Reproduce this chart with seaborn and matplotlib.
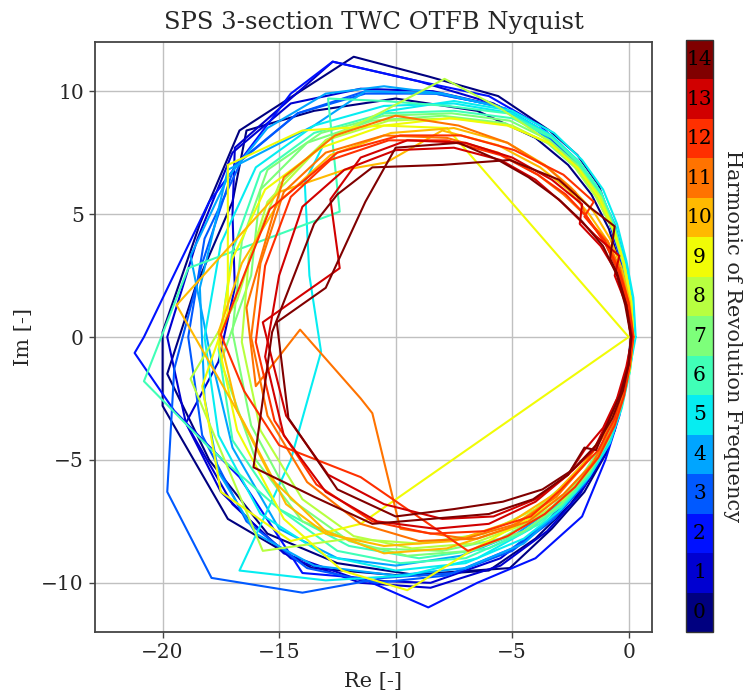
import numpy as np
import pandas as pd
import matplotlib
matplotlib.use("Agg")
import matplotlib.pyplot as plt
import seaborn as sns
from matplotlib.colors import ListedColormap, BoundaryNorm
from matplotlib.cm import ScalarMappable

# ---------------- data ----------------
harmonics = list(range(15))
tick_labels = [str(h) for h in harmonics]

c00a_re = [0.15, 0.05, -0.25, -0.7, -1.3, -2.2, -3.4, -5.6, -8.6, -11.8, -16.7, -18.4, -20.0, -20.0, -17.2, -13.6, -9.8, -5.1, -3.3, -1.9, -0.95, -0.4, -0.05, 0.15]
c00a_im = [0.0, 1.5, 3.0, 4.6, 6.2, 7.4, 8.4, 9.8, 10.6, 11.4, 8.4, 4.6, 0.2, -2.8, -7.4, -9.4, -9.7, -9.4, -7.8, -6.3, -4.7, -3.1, -1.5, 0.0]
c00b_re = [0.1, 0.0, -0.35, -0.85, -1.6, -2.6, -4.0, -6.5, -10.0, -13.5, -16.4, -17.0, -18.6, -19.8, -18.0, -15.5, -12.5, -9.0, -6.0, -4.0, -2.5, -1.4, -0.6, -0.15, 0.1]
c00b_im = [0.0, 1.4, 2.9, 4.4, 5.8, 7.0, 8.1, 9.2, 9.7, 9.2, 8.4, 5.5, 2.0, -1.5, -5.0, -8.0, -9.2, -9.7, -9.5, -8.2, -6.8, -5.4, -3.8, -2.0, 0.0]
c01a_re = [0.2, 0.05, -0.3, -0.8, -1.5, -2.5, -3.8, -5.8, -9.0, -12.7, -16.9, -17.0, -16.9, -17.6, -19.0, -17.5, -14.8, -11.5, -8.5, -5.5, -3.6, -2.2, -1.2, -0.5, -0.1, 0.2]
c01a_im = [0.0, 1.6, 3.1, 4.6, 6.0, 7.3, 8.4, 9.5, 10.4, 11.2, 7.7, 5.0, 2.0, -1.0, -3.5, -6.3, -8.8, -9.9, -10.0, -9.0, -7.6, -6.2, -4.7, -3.2, -1.6, 0.0]
c01b_re = [0.2, 0.1, -0.2, -0.7, -1.4, -2.4, -3.7, -5.6, -8.4, -11.5, -14.5, -17.0, -18.5, -19.8, -19.0, -17.0, -14.5, -11.5, -8.5, -5.5, -3.5, -2.1, -1.1, -0.45, -0.05, 0.2]
c01b_im = [0.0, 1.6, 3.1, 4.6, 6.0, 7.3, 8.4, 9.4, 10.0, 10.1, 9.5, 7.5, 4.0, 0.0, -3.5, -6.8, -9.0, -10.0, -10.2, -9.3, -7.9, -6.4, -4.9, -3.3, -1.6, 0.0]
c02a_re = [0.15, 0.0, -0.3, -0.8, -1.5, -2.5, -3.8, -6.0, -9.0, -12.7, -14.5, -18.0, -20.8, -21.2, -19.5, -16.7, -14.0, -11.5, -8.6, -6.5, -4.0, -2.0, -1.0, -0.4, -0.05, 0.15]
c02a_im = [0.0, 1.5, 3.0, 4.6, 6.1, 7.4, 8.6, 9.8, 10.4, 11.2, 9.9, 5.5, 0.0, -0.65, -3.0, -5.7, -9.6, -9.8, -11.0, -10.0, -9.0, -7.3, -5.0, -3.2, -1.5, 0.0]
c03a_re = [0.2, 0.1, -0.2, -0.7, -1.4, -2.4, -3.7, -5.6, -8.3, -11.3, -14.2, -16.9, -18.3, -19.5, -19.8, -17.9, -14.0, -10.5, -7.5, -5.0, -3.2, -1.9, -1.0, -0.4, -0.05, 0.2]
c03a_im = [0.0, 1.5, 3.0, 4.5, 5.9, 7.2, 8.4, 9.4, 9.9, 10.0, 9.1, 7.0, 3.0, -1.3, -6.3, -9.8, -10.4, -9.8, -9.6, -8.7, -7.4, -6.0, -4.6, -3.1, -1.5, 0.0]
c03b_re = [0.2, 0.1, -0.2, -0.7, -1.4, -2.4, -3.7, -5.6, -8.3, -11.3, -14.2, -16.6, -18.2, -18.9, -18.3, -16.4, -13.8, -10.8, -7.8, -5.0, -3.2, -1.9, -1.0, -0.4, -0.05, 0.2]
c03b_im = [0.0, 1.6, 3.1, 4.6, 6.0, 7.3, 8.4, 9.4, 9.9, 9.9, 9.1, 7.2, 4.0, 0.0, -4.0, -7.5, -9.4, -10.0, -9.7, -8.6, -7.3, -5.9, -4.5, -3.0, -1.5, 0.0]
c04a_re = [0.25, 0.15, -0.15, -0.6, -1.3, -2.2, -3.5, -5.3, -8.0, -10.5, -13.0, -15.5, -17.2, -18.8, -18.0, -17.0, -15.0, -12.5, -10.0, -7.2, -4.8, -3.0, -1.8, -0.9, -0.35, 0.0, 0.25]
c04a_im = [0.0, 1.6, 3.1, 4.6, 6.0, 7.2, 8.3, 9.3, 9.9, 10.2, 9.9, 8.5, 6.5, 3.3, -0.5, -4.5, -7.8, -9.0, -9.3, -8.9, -8.0, -6.8, -5.5, -4.1, -2.7, -1.3, 0.0]
c04b_re = [0.2, 0.1, -0.2, -0.7, -1.4, -2.3, -3.5, -5.3, -8.0, -11.3, -13.5, -17.2, -18.4, -18.2, -17.6, -16.0, -13.5, -10.0, -7.0, -4.5, -2.9, -1.8, -0.9, -0.35, 0.0, 0.2]
c04b_im = [0.0, 1.5, 3.0, 4.4, 5.8, 7.0, 8.1, 9.3, 9.9, 10.0, 8.6, 6.8, 2.0, -2.5, -5.5, -8.0, -9.3, -9.7, -9.4, -8.4, -7.0, -5.7, -4.3, -2.9, -1.4, 0.0]
c05a_re = [0.3, 0.2, -0.1, -0.5, -1.1, -2.0, -3.2, -5.0, -7.5, -10.3, -13.0, -13.9, -13.7, -13.2, -14.5, -16.7, -13.0, -9.5, -6.5, -4.2, -2.6, -1.5, -0.7, -0.2, 0.1, 0.3]
c05a_im = [0.0, 1.6, 3.1, 4.6, 6.0, 7.2, 8.3, 9.2, 9.6, 9.2, 8.0, 6.3, 2.5, -0.6, -5.0, -9.5, -9.9, -9.7, -9.0, -7.8, -6.5, -5.1, -3.6, -2.2, -1.0, 0.0]
c05b_re = [0.25, 0.15, -0.15, -0.6, -1.2, -2.1, -3.3, -5.0, -7.5, -10.5, -13.5, -16.0, -17.5, -18.2, -17.6, -15.8, -13.0, -10.0, -7.0, -4.5, -2.9, -1.7, -0.8, -0.3, 0.05, 0.25]
c05b_im = [0.0, 1.5, 3.0, 4.5, 5.9, 7.1, 8.2, 9.1, 9.5, 9.4, 8.6, 6.9, 3.8, 0.0, -4.0, -7.2, -8.9, -9.5, -9.2, -8.2, -7.0, -5.7, -4.3, -2.9, -1.4, 0.0]
c06a_re = [0.2, 0.1, -0.2, -0.65, -1.3, -2.2, -3.4, -5.2, -7.8, -10.5, -12.9, -12.4, -18.9, -20.8, -18.0, -15.0, -12.0, -9.0, -6.0, -3.8, -2.3, -1.3, -0.6, -0.15, 0.2]
c06a_im = [0.0, 1.5, 3.0, 4.5, 5.9, 7.1, 8.2, 9.1, 9.4, 9.6, 9.7, 5.1, 2.8, -1.8, -4.5, -7.0, -8.5, -9.0, -8.6, -7.6, -6.3, -4.9, -3.4, -1.7, 0.0]
c06b_re = [0.2, 0.1, -0.2, -0.6, -1.2, -2.1, -3.3, -5.0, -7.5, -10.5, -13.5, -15.8, -17.0, -17.6, -17.0, -15.0, -12.5, -9.8, -7.0, -4.6, -2.9, -1.7, -0.85, -0.3, 0.05, 0.2]
c06b_im = [0.0, 1.5, 3.0, 4.5, 5.9, 7.1, 8.1, 8.9, 9.2, 9.1, 8.3, 6.7, 3.5, -0.5, -4.2, -7.0, -8.7, -9.2, -9.0, -8.0, -6.9, -5.6, -4.2, -2.8, -1.4, 0.0]
c07a_re = [0.2, 0.1, -0.2, -0.65, -1.3, -2.2, -3.4, -5.1, -7.6, -10.5, -13.2, -15.5, -16.6, -17.0, -16.2, -14.5, -12.0, -9.5, -6.8, -4.5, -2.9, -1.7, -0.85, -0.3, 0.05, 0.2]
c07a_im = [0.0, 1.5, 3.0, 4.4, 5.8, 7.0, 8.0, 8.8, 9.1, 9.0, 8.3, 6.8, 3.9, 0.2, -3.6, -6.6, -8.3, -8.9, -8.7, -7.9, -6.8, -5.5, -4.1, -2.7, -1.3, 0.0]
c07b_re = [0.15, 0.05, -0.25, -0.7, -1.4, -2.3, -3.5, -5.3, -8.0, -11.0, -13.8, -15.8, -16.2, -17.5, -16.0, -14.0, -11.0, -8.0, -5.5, -3.6, -2.2, -1.2, -0.5, -0.1, 0.15]
c07b_im = [0.0, 1.5, 3.0, 4.4, 5.7, 6.9, 7.9, 8.7, 9.0, 8.8, 7.9, 6.0, 2.5, -1.0, -5.0, -7.5, -8.6, -8.7, -8.2, -7.2, -5.9, -4.5, -3.0, -1.5, 0.0]
c08a_re = [0.2, 0.1, -0.2, -0.7, -1.4, -2.3, -3.5, -5.5, -7.9, -10.5, -13.0, -15.5, -16.8, -18.8, -15.7, -12.0, -9.0, -6.2, -4.0, -2.5, -1.4, -0.65, -0.15, 0.2]
c08a_im = [0.0, 1.5, 3.0, 4.4, 5.7, 6.9, 8.0, 9.3, 10.5, 9.2, 8.0, 5.5, 1.5, -1.7, -8.7, -8.2, -8.4, -8.0, -7.0, -5.8, -4.5, -3.1, -1.6, 0.0]
c08b_re = [0.2, 0.1, -0.2, -0.6, -1.2, -2.1, -3.3, -5.0, -7.5, -10.3, -13.0, -15.0, -16.3, -16.6, -15.8, -14.0, -11.8, -9.3, -6.7, -4.4, -2.8, -1.6, -0.8, -0.3, 0.05, 0.2]
c08b_im = [0.0, 1.5, 2.9, 4.3, 5.7, 6.8, 7.8, 8.6, 8.9, 8.8, 8.0, 6.2, 3.2, -0.2, -3.8, -6.6, -8.1, -8.6, -8.4, -7.6, -6.6, -5.3, -4.0, -2.6, -1.3, 0.0]
c09a_re = [-7.8, 0.0, -11.5, -14.5, -17.5, -18.3, -17.2, -17.2, -14.0, -10.5, -7.8]
c09a_im = [8.5, 0.0, -7.6, -8.3, -6.3, -2.0, 1.0, 7.0, 8.4, 8.6, 8.5]
c09b_re = [0.2, 0.1, -0.2, -0.65, -1.3, -2.2, -3.4, -5.2, -7.7, -10.5, -13.2, -15.6, -17.0, -17.6, -16.8, -14.8, -12.3, -9.5, -6.6, -4.3, -2.8, -1.6, -0.8, -0.3, 0.05, 0.2]
c09b_im = [0.0, 1.5, 3.0, 4.4, 5.7, 6.9, 7.9, 8.6, 8.9, 8.6, 7.7, 6.0, 3.2, -0.3, -3.8, -7.4, -9.5, -10.3, -8.6, -7.4, -6.4, -5.2, -3.9, -2.6, -1.3, 0.0]
c10a_re = [0.2, 0.05, -0.3, -0.8, -1.5, -2.5, -3.6, -5.2, -7.5, -10.2, -12.8, -15.0, -16.6, -17.6, -16.8, -15.3, -13.0, -10.5, -7.8, -5.2, -3.3, -2.0, -1.0, -0.4, 0.0, 0.2]
c10a_im = [0.0, 1.4, 2.8, 4.0, 5.1, 6.1, 7.0, 7.9, 8.5, 8.3, 7.4, 5.5, 3.0, 0.2, -3.0, -5.8, -7.9, -8.8, -8.6, -7.8, -6.6, -5.3, -3.9, -2.6, -1.2, 0.0]
c10b_re = [0.15, 0.0, -0.35, -0.9, -1.7, -2.6, -3.8, -5.6, -8.0, -10.4, -12.2, -15.0, -19.4, -16.5, -14.7, -13.0, -10.5, -7.5, -5.0, -3.2, -1.9, -1.0, -0.4, 0.0, 0.15]
c10b_im = [0.0, 1.4, 2.7, 3.9, 5.0, 6.0, 6.9, 7.8, 8.4, 7.1, 6.8, 5.9, 1.3, -3.5, -6.8, -8.0, -8.5, -8.3, -7.5, -6.4, -5.1, -3.8, -2.5, -1.2, 0.0]
c11a_re = [0.2, 0.0, -0.35, -0.9, -1.7, -2.3, -3.5, -5.2, -7.3, -10.0, -12.6, -14.8, -16.4, -16.0, -14.1, -11.5, -11.0, -9.8, -7.0, -4.8, -3.1, -1.9, -1.0, -0.4, 0.0, 0.2]
c11a_im = [0.0, 1.4, 2.7, 3.9, 4.7, 5.9, 6.9, 7.9, 8.6, 9.0, 8.2, 6.5, 1.2, -2.0, 0.3, -2.5, -3.1, -7.8, -8.2, -7.6, -6.5, -5.2, -3.9, -2.6, -1.2, 0.0]
c11b_re = [0.15, -0.05, -0.4, -1.0, -1.8, -2.8, -3.9, -5.6, -7.8, -10.5, -13.0, -14.8, -15.8, -16.2, -15.5, -13.8, -11.5, -9.0, -6.5, -4.3, -2.8, -1.6, -0.8, -0.3, 0.0, 0.15]
c11b_im = [0.0, 1.3, 2.6, 3.8, 4.9, 5.8, 6.6, 7.5, 8.1, 8.2, 7.5, 5.9, 3.0, 0.0, -3.2, -5.9, -7.6, -8.3, -8.2, -7.5, -6.4, -5.2, -3.9, -2.6, -1.3, 0.0]
c12a_re = [0.2, 0.0, -0.4, -1.0, -1.9, -1.5, -2.8, -4.9, -7.2, -9.8, -12.5, -15.4, -17.5, -16.5, -15.0, -11.5, -6.9, -5.2, -3.6, -2.3, -1.3, -0.6, -0.2, 0.05, 0.2]
c12a_im = [0.0, 1.4, 2.7, 3.9, 4.9, 5.5, 6.6, 7.6, 8.2, 8.2, 7.5, 5.2, 0.1, -2.2, -4.4, -5.7, -8.7, -8.1, -7.2, -6.1, -4.9, -3.6, -2.4, -1.2, 0.0]
c12b_re = [0.15, -0.05, -0.4, -1.0, -1.8, -2.7, -3.9, -5.5, -7.8, -10.3, -12.8, -14.5, -15.6, -16.0, -15.2, -13.4, -11.0, -8.5, -6.2, -4.2, -2.9, -2.3, -1.3, -0.6, -0.1, 0.15]
c12b_im = [0.0, 1.3, 2.6, 3.8, 4.9, 5.8, 6.6, 7.4, 8.0, 8.0, 7.2, 5.7, 2.9, -0.2, -3.4, -6.0, -7.5, -8.0, -7.9, -7.3, -6.2, -5.6, -4.6, -3.3, -1.6, 0.0]
c13a_re = [0.15, -0.1, -0.5, -1.2, -2.1, -2.0, -3.3, -5.0, -7.0, -9.5, -11.5, -12.8, -12.4, -15.7, -14.7, -12.9, -10.5, -8.0, -5.8, -4.0, -2.6, -1.9, -1.1, -0.5, -0.1, 0.15]
c13a_im = [0.0, 1.3, 2.6, 3.7, 4.6, 5.4, 6.4, 7.3, 7.9, 8.0, 7.3, 5.6, 2.8, 0.6, -3.2, -5.6, -6.8, -7.4, -7.3, -6.6, -5.6, -4.6, -3.7, -2.5, -1.2, 0.0]
c13b_re = [0.1, -0.1, -0.6, -0.4, -1.4, -2.9, -4.0, -5.5, -7.5, -10.0, -12.2, -14.0, -15.0, -15.6, -14.8, -13.0, -10.8, -8.3, -6.0, -4.0, -2.6, -1.5, -0.9, -0.35, 0.0, 0.1]
c13b_im = [0.0, 1.3, 2.5, 3.3, 4.1, 5.5, 6.4, 7.2, 7.7, 7.6, 6.8, 5.3, 2.5, -0.8, -4.0, -6.3, -7.5, -7.8, -7.6, -6.7, -5.6, -4.6, -3.4, -2.2, -1.1, 0.0]
c14a_re = [0.1, -0.1, -0.5, -0.8, -0.6, -1.7, -3.0, -5.1, -8.0, -11.0, -12.5, -13.5, -15.3, -16.1, -13.5, -11.0, -8.5, -6.0, -4.1, -2.6, -1.9, -1.4, -0.9, -0.35, 0.0, 0.1]
c14a_im = [0.0, 1.3, 2.6, 3.2, 4.5, 5.3, 6.4, 7.2, 7.0, 6.9, 5.8, 4.6, 0.2, -5.3, -6.5, -7.6, -7.4, -7.2, -6.6, -5.6, -4.5, -4.6, -3.5, -2.3, -1.1, 0.0]
c14b_re = [0.1, -0.15, -0.5, -1.1, -2.0, -3.0, -4.3, -5.6, -7.3, -10.0, -11.3, -13.0, -15.1, -14.6, -12.5, -10.0, -7.5, -5.4, -3.7, -2.4, -1.4, -0.7, -0.25, 0.0, 0.1]
c14b_im = [0.0, 1.3, 2.5, 3.7, 4.7, 5.6, 6.5, 7.2, 7.9, 7.7, 5.5, 2.0, 0.6, -3.3, -6.2, -7.3, -7.0, -6.7, -6.2, -5.4, -4.4, -3.3, -2.2, -1.1, 0.0]

curves = [
    ("c00a", 0, c00a_re, c00a_im), ("c00b", 0, c00b_re, c00b_im),
    ("c01a", 1, c01a_re, c01a_im), ("c01b", 1, c01b_re, c01b_im),
    ("c02a", 2, c02a_re, c02a_im),
    ("c03a", 3, c03a_re, c03a_im), ("c03b", 3, c03b_re, c03b_im),
    ("c04a", 4, c04a_re, c04a_im), ("c04b", 4, c04b_re, c04b_im),
    ("c05a", 5, c05a_re, c05a_im), ("c05b", 5, c05b_re, c05b_im),
    ("c06a", 6, c06a_re, c06a_im), ("c06b", 6, c06b_re, c06b_im),
    ("c07a", 7, c07a_re, c07a_im), ("c07b", 7, c07b_re, c07b_im),
    ("c08a", 8, c08a_re, c08a_im), ("c08b", 8, c08b_re, c08b_im),
    ("c09a", 9, c09a_re, c09a_im), ("c09b", 9, c09b_re, c09b_im),
    ("c10a", 10, c10a_re, c10a_im), ("c10b", 10, c10b_re, c10b_im),
    ("c11a", 11, c11a_re, c11a_im), ("c11b", 11, c11b_re, c11b_im),
    ("c12a", 12, c12a_re, c12a_im), ("c12b", 12, c12b_re, c12b_im),
    ("c13a", 13, c13a_re, c13a_im), ("c13b", 13, c13b_re, c13b_im),
    ("c14a", 14, c14a_re, c14a_im), ("c14b", 14, c14b_re, c14b_im),
]

rows = []
for name, h, re_, im_ in curves:
    for k, (r, i) in enumerate(zip(re_, im_)):
        rows.append({"curve": name, "harmonic": h, "order": k, "re": r, "im": i})
df = pd.DataFrame(rows)

# ---------------- style ----------------
sns.set_theme(style="whitegrid")
plt.rcParams["font.family"] = ["DejaVu Serif"]
plt.rcParams["mathtext.fontset"] = "dejavuserif"

jet = matplotlib.colormaps["jet"]
colors = [jet(i / 14) for i in harmonics]
palette = {h: colors[h] for h in harmonics}
cmap = ListedColormap(colors)
norm = BoundaryNorm(np.arange(-0.5, 15.0, 1.0), 15)

fig = plt.figure(figsize=(7.47, 6.95), dpi=100)
ax = fig.add_axes([95 / 747, 1 - 632 / 695, 557 / 747, 590 / 695])
cax = fig.add_axes([686 / 747, 1 - 632 / 695, 27 / 747, 592 / 695])

sns.lineplot(data=df, x="re", y="im", hue="harmonic", units="curve",
             estimator=None, sort=False, palette=palette, legend=False,
             linewidth=1.5, ax=ax)

ax.set_xlim(-22.9, 1.0)
ax.set_ylim(-12.0, 12.0)
ax.set_xticks([-20, -15, -10, -5, 0])
ax.set_yticks([-10, -5, 0, 5, 10])
ax.grid(True, color="#c0c0c0", linewidth=1.0)
ax.set_facecolor("white")
for s in ax.spines.values():
    s.set_color("#444444")
    s.set_linewidth(1.3)
ax.tick_params(axis="both", which="major", labelsize=14.5, direction="out",
               length=4, width=1, color="#444444", bottom=True, left=True,
               pad=4)
ax.set_xlabel("Re [-]", fontsize=15, labelpad=7)
ax.set_ylabel("Im [-]", fontsize=15, labelpad=6)
ax.set_title("SPS 3-section TWC OTFB Nyquist", fontsize=17.5, pad=9)

sm = ScalarMappable(norm=norm, cmap=cmap)
sm.set_array([])
cb = fig.colorbar(sm, cax=cax, ticks=harmonics)
cb.outline.set_edgecolor("#333333")
cb.outline.set_linewidth(1.0)
cax.minorticks_off()
cax.tick_params(which="both", length=0, labelright=False, right=False, left=False)
for h, lab in zip(harmonics, tick_labels):
    cax.text(0.5, h, lab, ha="center", va="center", fontsize=14.5,
             color="black", transform=cax.get_yaxis_transform())
cax.yaxis.set_label_position("right")
cb.set_label("Harmonic of Revolution Frequency", fontsize=15, rotation=270,
             labelpad=21)

fig.savefig("out.png", dpi=100)
